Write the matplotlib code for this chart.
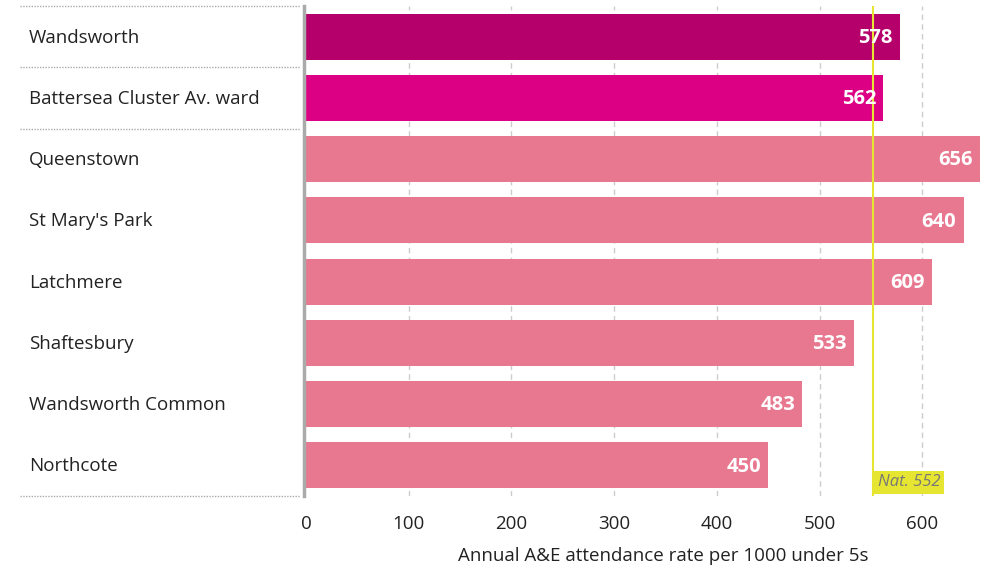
import matplotlib
matplotlib.use("Agg")
import matplotlib.pyplot as plt
from matplotlib.lines import Line2D

categories = ["Wandsworth", "Battersea Cluster Av. ward", "Queenstown", "St Mary's Park",
              "Latchmere", "Shaftesbury", "Wandsworth Common", "Northcote"]
values = [578, 562, 656, 640, 609, 533, 483, 450]
colors = ["#b5006b", "#dc0084"] + ["#e8788f"] * 6
national = 552
xticks = [0, 100, 200, 300, 400, 500, 600]
xlabel = "Annual A&E attendance rate per 1000 under 5s"

plt.rcParams['font.family'] = ['Open Sans', 'DejaVu Sans']

fig = plt.figure(figsize=(9.9, 5.7), dpi=100)
W, H = 990, 570
ax_left, ax_right, ax_top, ax_bottom = 306, 982, 6, 496
ax = fig.add_axes([ax_left / W, 1 - ax_bottom / H, (ax_right - ax_left) / W, (ax_bottom - ax_top) / H])

n = len(categories)
ypos = list(range(n))
ax.barh(ypos, values, height=0.75, color=colors, zorder=2)
ax.set_ylim(n - 0.5, -0.5)
ax.set_xlim(0, 658)

for y, v in zip(ypos, values):
    ax.text(v - 7, y + 0.02, str(v), ha="right", va="center", color="white",
            fontsize=14.5, fontweight="bold", zorder=4)

for x in xticks[1:]:
    ax.axvline(x, color="#cccccc", linestyle=(0, (4, 3)), linewidth=1, zorder=1)

ax.axvline(national, color="#e6e632", linewidth=1.5, zorder=3)
ax.text(national + 4.5, n - 0.5 - 0.09, "Nat. 552", ha="left", va="bottom",
        fontsize=12, style="italic", color="#777777", zorder=5,
        bbox=dict(boxstyle="square,pad=0.2", facecolor="#e6e632", edgecolor="none"))

for s in ax.spines.values():
    s.set_visible(False)
ax.set_yticks([])
ax.set_xticks(xticks)
ax.set_xticklabels([str(t) for t in xticks], fontsize=13.5, color="#222222")
ax.tick_params(axis="x", length=0, pad=14)

fig.text(868 / W, 1 - 556 / H, xlabel, ha="right", va="center", fontsize=13.5, color="#222222")

# left gray axis line
fig.add_artist(Line2D([303.5 / W, 303.5 / W], [1 - 6 / H, 1 - 496 / H], color="#aaaaaa", linewidth=2.5))

# category labels and dotted separators
for i, c in enumerate(categories):
    yc = ax_top + (i + 0.5) * (ax_bottom - ax_top) / n
    fig.text(29 / W, 1 - (yc + 1) / H, c, ha="left", va="center", fontsize=13.5, color="#222222")

sep_rows = [0, 1, 2, n]
for r in sep_rows:
    yy = ax_top + r * (ax_bottom - ax_top) / n
    fig.add_artist(Line2D([20 / W, 300 / W], [1 - yy / H, 1 - yy / H], color="#aaaaaa",
                          linewidth=1, linestyle=(0, (1, 1))))

fig.savefig("out.png", dpi=100)
